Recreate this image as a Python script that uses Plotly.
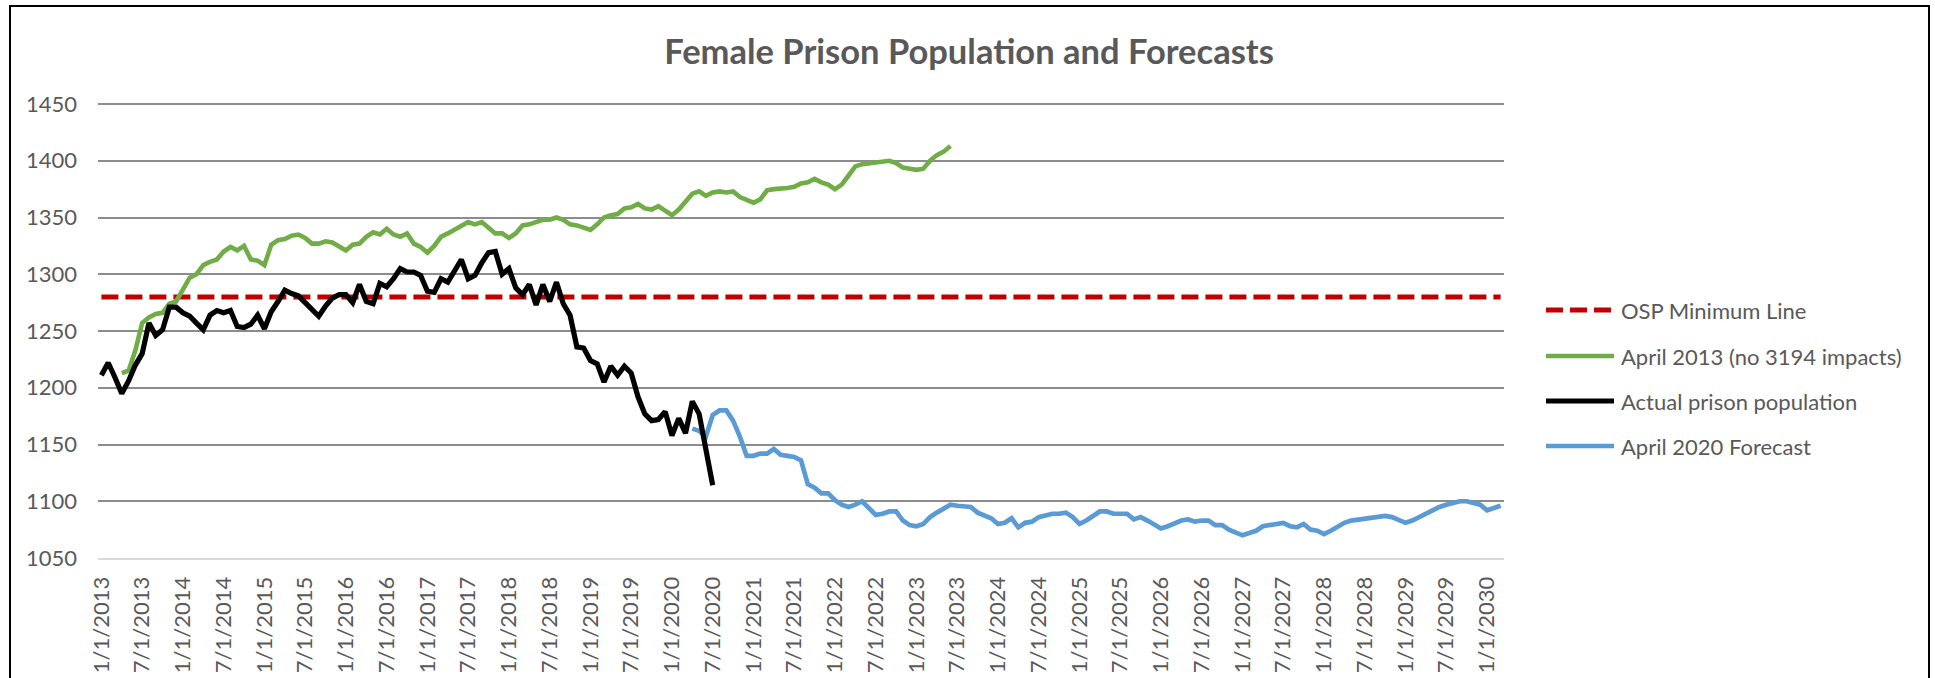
import plotly.graph_objects as go

# ---------------- data ----------------
# monthly categories, Jan 2013 .. Mar 2030
months = [f"{mo}/1/{yr}" for yr in range(2013, 2031) for mo in range(1, 13)][:207]
tick_labels = months[0:205:6]

osp_minimum = 1280

actual_population = [
    1211, 1222, 1209, 1195, 1206, 1220, 1230, 1257, 1246, 1251, 1271, 1271,
    1266, 1263, 1257, 1251, 1264, 1268, 1266, 1268, 1254, 1253, 1256, 1264,
    1252, 1267, 1276, 1286, 1283, 1281, 1275, 1269, 1263, 1272, 1279, 1282,
    1282, 1275, 1291, 1276, 1274, 1292, 1289, 1296, 1305, 1302, 1302, 1299,
    1285, 1284, 1296, 1293, 1303, 1313, 1296, 1299, 1310, 1319, 1320, 1300,
    1305, 1288, 1282, 1291, 1273, 1291, 1276, 1293, 1274, 1264, 1236, 1235,
    1224, 1221, 1205, 1219, 1211, 1219, 1213, 1192, 1177, 1171, 1172, 1179,
    1158, 1173, 1160, 1188, 1177, 1145, 1114,
]
actual_start = 0

april2013_forecast = [
    1213, 1215, 1233, 1257, 1262, 1265, 1266, 1274, 1276,
    1286, 1297, 1300, 1308, 1311, 1313, 1320, 1324, 1321, 1325, 1313, 1312,
    1308, 1326, 1330, 1331, 1334, 1335, 1332, 1327, 1327, 1329, 1328, 1325,
    1321, 1326, 1327, 1333, 1337, 1335, 1340, 1335, 1333, 1336, 1327, 1324,
    1319, 1325, 1333, 1336, 1339, 1342, 1346, 1344, 1346, 1341, 1336, 1336,
    1332, 1336, 1343, 1344, 1346, 1348, 1348, 1350, 1348, 1344, 1343, 1341,
    1339, 1344, 1350, 1352, 1353, 1358, 1359, 1362, 1358, 1357, 1360, 1356,
    1352, 1357, 1364, 1371, 1373, 1369, 1372, 1373, 1372, 1373, 1368, 1365,
    1363, 1366, 1374, 1375, 1375, 1376, 1377, 1380, 1381, 1384, 1381, 1379,
    1375, 1379, 1387, 1395, 1397, 1398, 1399, 1399, 1400, 1398, 1394, 1393,
    1392, 1393, 1400, 1405, 1408, 1413,
]
april2013_start = 3

april2020_forecast = [
    1164, 1162, 1157, 1176, 1180, 1180, 1171, 1157, 1140,
    1140, 1142, 1142, 1146, 1141, 1140, 1139, 1136, 1115, 1112, 1107, 1107,
    1101, 1097, 1095, 1097, 1100, 1094, 1088, 1089, 1091, 1091, 1083, 1079,
    1078, 1080, 1086, 1090, 1093, 1097, 1096, 1095, 1095, 1090, 1088, 1085,
    1080, 1081, 1085, 1077, 1081, 1082, 1086, 1088, 1089, 1089, 1090, 1086,
    1080, 1083, 1087, 1091, 1091, 1089, 1089, 1089, 1084, 1086, 1083, 1080,
    1076, 1078, 1081, 1083, 1084, 1082, 1083, 1083, 1079, 1079, 1075, 1072,
    1070, 1072, 1074, 1078, 1079, 1081, 1081, 1078, 1077, 1080, 1075, 1074,
    1071, 1074, 1078, 1081, 1083, 1084, 1084, 1085, 1087, 1087, 1086, 1084,
    1081, 1083, 1086, 1090, 1093, 1095, 1097, 1099, 1100, 1100, 1099, 1097,
    1092, 1094, 1096,
]
april2020_start = 87

series_names = [
    "OSP Minimum Line",
    "April 2013 (no 3194 impacts)",
    "Actual prison population",
    "April 2020 Forecast",
]

y_min, y_max, y_step = 1050, 1450, 50

# ---------------- style ----------------
W, H = 1935, 678
PLOT_TOP, PLOT_BOTTOM = 104, 558          # pixel rows of y_max / y_min
EXTRA = 2                                 # keep top gridline off the clip edge
ML, MR, MT, MB = 98, 431, PLOT_TOP - EXTRA, H - PLOT_BOTTOM
PW, PH = W - ML - MR, H - MT - MB
y_top = y_min + (y_max - y_min) * PH / (PLOT_BOTTOM - PLOT_TOP)

RED, GREEN, BLACK, BLUE = "#C00000", "#70AD47", "#000000", "#5B9BD5"
TXT = "#595959"
FONT = "Lato"
DASH = "17px,7px"
FS = 22


def px_x(px):
    return (px - ML) / PW


def px_y(py):
    return (H - MB - py) / PH


fig = go.Figure()

fig.add_trace(go.Scatter(
    x=months, y=[osp_minimum] * len(months), mode="lines", name=series_names[0],
    line=dict(color=RED, width=5, dash=DASH), showlegend=False,
))
fig.add_trace(go.Scatter(
    x=months[april2013_start:april2013_start + len(april2013_forecast)],
    y=april2013_forecast, mode="lines", name=series_names[1],
    line=dict(color=GREEN, width=4.6), showlegend=False,
))
fig.add_trace(go.Scatter(
    x=months[april2020_start:april2020_start + len(april2020_forecast)],
    y=april2020_forecast, mode="lines", name=series_names[3],
    line=dict(color=BLUE, width=4.7), showlegend=False,
))
fig.add_trace(go.Scatter(
    x=months[actual_start:actual_start + len(actual_population)],
    y=actual_population, mode="lines", name=series_names[2],
    line=dict(color=BLACK, width=5.2), showlegend=False,
))

shapes = []
annotations = []

# chart-area border
shapes.append(dict(type="rect", xref="paper", yref="paper",
                   x0=px_x(10), x1=px_x(1929), y0=px_y(700), y1=px_y(6),
                   line=dict(color="#000000", width=2), layer="above"))

# legend (line keys + text)
legend_items = [
    (series_names[0], RED, DASH, 5),
    (series_names[1], GREEN, "solid", 4.6),
    (series_names[2], BLACK, "solid", 5),
    (series_names[3], BLUE, "solid", 4.7),
]
legend_y = [310, 356, 401, 446]
for (name, col, dash, w), yy in zip(legend_items, legend_y):
    shapes.append(dict(type="line", xref="paper", yref="paper",
                       x0=px_x(1546), x1=px_x(1614), y0=px_y(yy), y1=px_y(yy),
                       line=dict(color=col, width=w, dash=dash)))
    annotations.append(dict(text=name, xref="paper", yref="paper",
                            x=px_x(1619), y=px_y(yy), xanchor="left", yanchor="middle",
                            showarrow=False, font=dict(family=FONT, size=FS, color=TXT)))

fig.update_layout(
    width=W, height=H,
    margin=dict(l=ML, r=MR, t=MT, b=MB, pad=0, autoexpand=False),
    paper_bgcolor="white", plot_bgcolor="white",
    showlegend=False,
    title=dict(text="<b>Female Prison Population and Forecasts</b>",
               x=969 / W, xref="container", xanchor="center",
               y=1 - 52 / H, yref="container", yanchor="middle",
               font=dict(family=FONT, size=34.5, color=TXT)),
    xaxis=dict(type="category", categoryorder="array", categoryarray=months,
               range=[-0.5, len(months) - 0.5], automargin=False,
               tickmode="array", tickvals=tick_labels, ticktext=tick_labels,
               tickangle=-90, showgrid=False, zeroline=False,
               showline=True, linecolor="#D9D9D9", linewidth=2,
               ticks="", ticklabelstandoff=8,
               tickfont=dict(family=FONT, size=FS, color=TXT)),
    yaxis=dict(range=[y_min, y_top], dtick=y_step, tick0=y_min, automargin=False,
               showgrid=True, gridcolor="#8C8C8C", gridwidth=2,
               zeroline=False, showline=False, ticks="",
               ticklabelstandoff=20,
               tickfont=dict(family=FONT, size=FS, color=TXT)),
    shapes=shapes, annotations=annotations,
)

fig.write_html("out.html", config={"displayModeBar": False},
               post_script="document.body.style.margin='0px';")
